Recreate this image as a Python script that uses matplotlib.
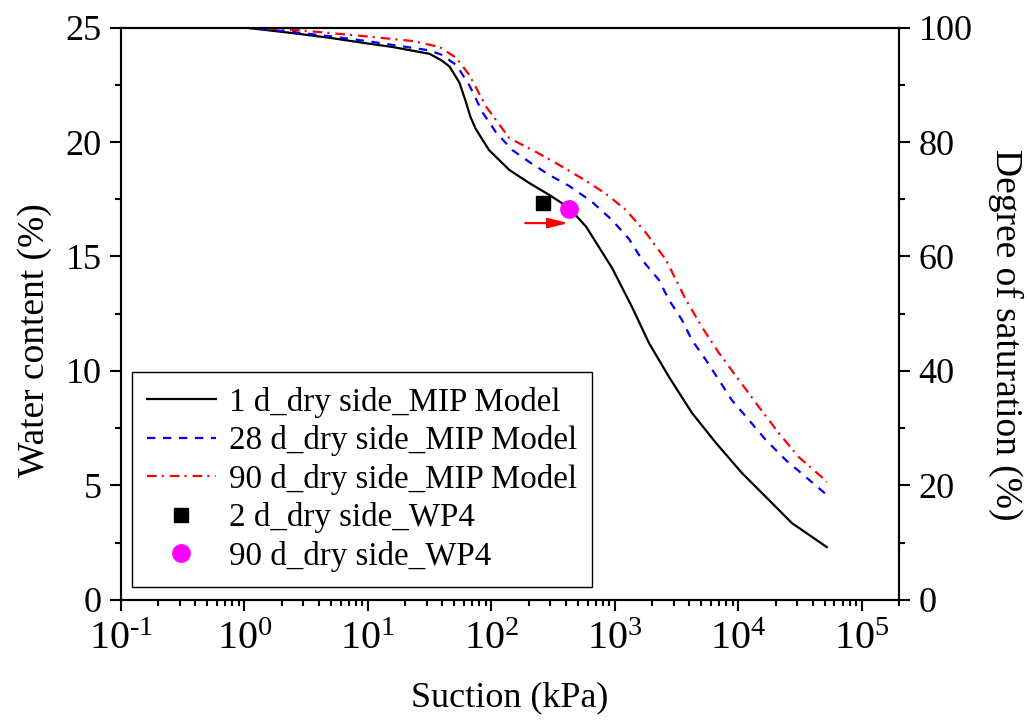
import matplotlib
matplotlib.use("Agg")
import matplotlib.pyplot as plt
from matplotlib.ticker import FixedLocator, MultipleLocator, LogLocator, NullFormatter

plt.rcParams['font.family'] = ['Liberation Serif', 'DejaVu Serif']
plt.rcParams['mathtext.fontset'] = 'custom'
plt.rcParams['mathtext.rm'] = 'Liberation Serif'
plt.rcParams['mathtext.it'] = 'Liberation Serif:italic'
plt.rcParams['lines.scale_dashes'] = False

# Suction (kPa) and water content (%) of the MIP-based retention models
suction_1d = [1.0, 2.51, 4.9, 10, 15.8, 31.6, 39.8, 45.7, 55.0, 61.7, 67.6, 74.1, 95.5,
              139.6, 202.3, 293.8, 426.6, 584.8, 948.4, 1377, 1888, 2742, 4207, 6577,
              10666, 17660, 27100, 52000]
water_1d = [25.0, 24.75, 24.55, 24.3, 24.15, 23.85, 23.55, 23.3, 22.6, 21.8, 21.1, 20.6,
            19.65, 18.78, 18.21, 17.69, 17.12, 16.30, 14.50, 12.79, 11.22, 9.74, 8.17,
            6.86, 5.55, 4.37, 3.36, 2.31]

suction_28d = [1.0, 2.51, 4.9, 10, 31.6, 39.8, 52.0, 66.1, 84.3, 109.6, 147.6, 202.3,
               293.8, 426.6, 654.6, 948.4, 1303, 1660, 2275, 2742, 3491, 4207, 5458,
               6950, 8851, 12160, 16670, 24210, 35160, 52000]
water_28d = [25.0, 24.8, 24.62, 24.4, 24.0, 23.8, 23.36, 22.49, 21.31, 20.4, 19.65,
             19.13, 18.56, 18.08, 17.38, 16.59, 15.76, 14.85, 13.97, 13.10, 12.23, 11.35,
             10.48, 9.61, 8.73, 7.86, 6.99, 6.11, 5.37, 4.59]

suction_90d = [1.0, 2.65, 9.04, 22.9, 38.0, 52.0, 66.1, 91.0, 139.6, 230.7, 354.0,
               584.8, 849.2, 1230, 1786, 2594, 3767, 5070, 6950, 10090, 14660, 21230,
               30830, 47320, 52000]
water_90d = [25.0, 24.89, 24.63, 24.41, 24.15, 23.67, 22.93, 21.53, 20.17, 19.56, 19.0,
             18.30, 17.73, 17.03, 16.03, 14.85, 13.10, 11.92, 10.79, 9.61, 8.43, 7.29,
             6.24, 5.37, 5.15]

# WP4 measurements
wp4_2d_suction = [263]
wp4_2d_water = [17.34]
wp4_90d_suction = [427]
wp4_90d_water = [17.07]

x_ticks = [0.1, 1, 10, 100, 1000, 10000, 100000]
x_tick_labels = [r'$\mathregular{10^{\text{-}1}}$', r'$\mathregular{10^{0}}$',
                 r'$\mathregular{10^{1}}$', r'$\mathregular{10^{2}}$',
                 r'$\mathregular{10^{3}}$', r'$\mathregular{10^{4}}$',
                 r'$\mathregular{10^{5}}$']

fig = plt.figure(figsize=(10.27, 7.22), dpi=100)
ax = fig.add_axes([0.1178, 0.169, 0.7576, 0.7929])

lw = 1.6
ax.plot(suction_1d, water_1d, color='black', lw=lw, label='1 d_dry side_MIP Model')
ax.plot(suction_28d, water_28d, color='blue', lw=lw, dashes=(6, 5.5),
        label='28 d_dry side_MIP Model')
ax.plot(suction_90d, water_90d, color='red', lw=lw, dashes=(7, 3.6, 1.5, 4.3),
        label='90 d_dry side_MIP Model')
ax.plot(wp4_2d_suction, wp4_2d_water, ls='none', marker='s', ms=10.5, color='black',
        label='2 d_dry side_WP4')
ax.plot(wp4_90d_suction, wp4_90d_water, ls='none', marker='o', ms=12.5, color='#ff00ff',
        label='90 d_dry side_WP4')

ax.annotate('', xy=(420, 16.46), xytext=(188, 16.46),
            arrowprops=dict(arrowstyle='-|>,head_length=0.6,head_width=0.15',
                            color='red', lw=1.6, shrinkA=0, shrinkB=0,
                            mutation_scale=20))

ax.set_xscale('log')
ax.set_xlim(0.1, 2e5)
ax.set_ylim(0, 25)
ax.xaxis.set_major_locator(FixedLocator(x_ticks))
ax.set_xticklabels(x_tick_labels)
ax.xaxis.set_minor_locator(LogLocator(base=10, subs=range(2, 10), numticks=20))
ax.xaxis.set_minor_formatter(NullFormatter())
ax.yaxis.set_major_locator(MultipleLocator(5))
ax.yaxis.set_minor_locator(MultipleLocator(2.5))

ax2 = ax.twinx()
ax2.set_ylim(0, 100)
ax2.yaxis.set_major_locator(MultipleLocator(20))
ax2.yaxis.set_minor_locator(MultipleLocator(10))

for a in (ax, ax2):
    for s in a.spines.values():
        s.set_linewidth(1.5)

ax.tick_params(axis='both', which='major', direction='out', length=8, width=1.5,
               labelsize=26, pad=6)
ax.tick_params(axis='both', which='minor', direction='out', length=4.5, width=1.5)
ax.tick_params(axis='x', which='major', labelsize=29, pad=7)
ax2.tick_params(axis='y', which='major', direction='out', length=8, width=1.5,
                labelsize=26, pad=6)
ax2.tick_params(axis='y', which='minor', direction='out', length=4.5, width=1.5)

ax.set_xlabel('Suction (kPa)', fontsize=26, va='center')
ax.xaxis.set_label_coords(0.5, -0.171)
ax.set_ylabel('Water content (%)', fontsize=27, ha='center', va='center',
              rotation=90, rotation_mode='anchor')
ax.yaxis.set_label_coords(-0.1105, 0.454)
ax2.set_ylabel('Degree of saturation (%)', fontsize=27, ha='center', va='center',
               rotation=-90, rotation_mode='anchor')
ax2.yaxis.set_label_coords(1.137, 0.464)

leg = ax.legend(loc='lower left', bbox_to_anchor=(0.014, 0.023), fontsize=23.8,
                frameon=True, fancybox=False, edgecolor='black', framealpha=1,
                handlelength=2.1, handletextpad=0.4, labelspacing=0.23,
                borderpad=0.45, borderaxespad=0)
leg.get_frame().set_linewidth(1.0)

fig.savefig('out.png', dpi=100)
